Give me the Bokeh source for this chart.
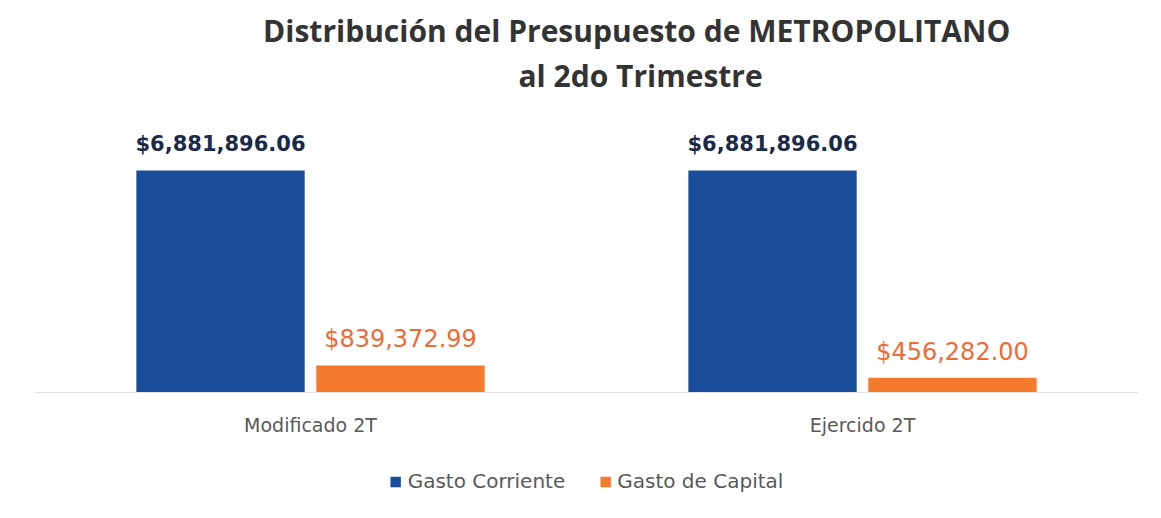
from bokeh.plotting import figure
from bokeh.models import ColumnDataSource, FactorRange, Range1d, Legend, LegendItem, Label, Span
from bokeh.transform import dodge
from bokeh.core.properties import value
from bokeh.embed import file_html
from bokeh.resources import INLINE

categories = ["Modificado 2T", "Ejercido 2T"]
gasto_corriente = [6881896.06, 6881896.06]
gasto_capital = [839372.99, 456282.00]
series_names = ["Gasto Corriente", "Gasto de Capital"]
title_lines = ["Distribución  del Presupuesto de METROPOLITANO", "al 2do Trimestre"]

def fmt(v):
    return "${:,.2f}".format(v)

src = ColumnDataSource(dict(
    cat=categories,
    gc=gasto_corriente,
    gk=gasto_capital,
    gc_lbl=[fmt(v) for v in gasto_corriente],
    gk_lbl=[fmt(v) for v in gasto_capital],
    zero=[0, 0],
))

BLUE = "#1a4d9c"
ORANGE = "#f47a2e"
NAVY = "#1b2a48"
ORANGE_TXT = "#ee6b35"

# vertical scale: pixels above / below the baseline inside the frame
PX_UP, PX_DOWN, PX_BAR = 392, 123, 222
unit = max(gasto_corriente) / PX_BAR
YMIN, YMAX = -PX_DOWN * unit, PX_UP * unit

p = figure(x_range=FactorRange(*categories), y_range=Range1d(YMIN, YMAX),
           frame_width=1104, frame_height=PX_UP + PX_DOWN, output_backend="svg",
           toolbar_location=None,
           min_border_left=34, min_border_right=15, min_border_top=0, min_border_bottom=0)
p.outline_line_color = None
p.xgrid.visible = False
p.ygrid.visible = False
p.yaxis.visible = False
p.xaxis.visible = False

p.add_layout(Span(location=0, dimension="width", line_color="#e3e3e3", line_width=1))

bw = 0.305
off = 0.163
r1 = p.vbar(x=dodge("cat", -off, range=p.x_range), top="gc", width=bw, source=src,
            color=BLUE, line_color=None)
r2 = p.vbar(x=dodge("cat", off, range=p.x_range), top="gk", width=bw, source=src,
            color=ORANGE, line_color=None)

p.text(x=dodge("cat", -off, range=p.x_range), y="gc", text="gc_lbl", source=src,
       text_align="center", text_baseline="middle", y_offset=-27,
       text_font=value("DejaVu Sans"), text_font_style="bold", text_font_size="21px",
       text_color=NAVY)
p.text(x=dodge("cat", off, range=p.x_range), y="gk", text="gk_lbl", source=src,
       text_align="center", text_baseline="middle", y_offset=-26,
       text_font=value("DejaVu Sans"), text_font_size="24px",
       text_color=ORANGE_TXT)

# category labels under the baseline
p.text(x="cat", y="zero", text="cat", source=src,
       text_align="center", text_baseline="middle", y_offset=32,
       text_font=value("DejaVu Sans"), text_font_size="19px", text_color="#595959")

# Title
for i, line in enumerate(title_lines):
    p.add_layout(Label(x=1.098, y=YMAX - (30 + 45 * i) * unit, text=line,
                       text_align="center", text_baseline="middle",
                       text_font="Open Sans", text_font_style="bold",
                       text_font_size="30px", text_color="#333333"))

legend = Legend(items=[LegendItem(label=series_names[0], renderers=[r1]),
                       LegendItem(label=series_names[1], renderers=[r2])],
                orientation="horizontal", location="bottom_center",
                label_text_font="DejaVu Sans", label_text_font_size="20px",
                label_text_color="#595959", glyph_width=13, glyph_height=13,
                label_standoff=6, spacing=33, border_line_color=None,
                background_fill_alpha=0, margin=22, padding=0)
p.add_layout(legend)

open("out.html", "w").write(file_html(p, INLINE))
